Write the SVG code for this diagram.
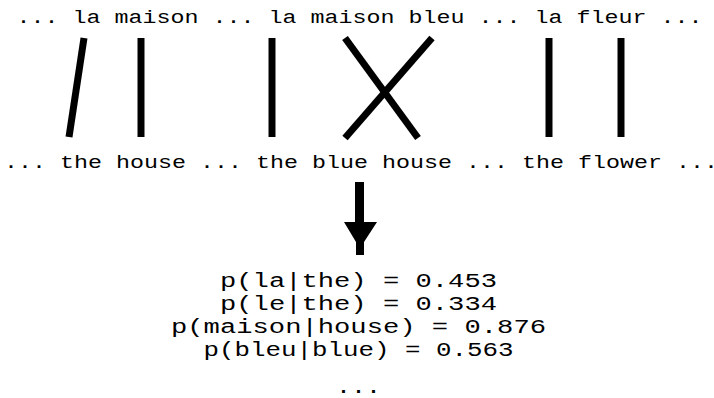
<svg xmlns="http://www.w3.org/2000/svg" width="714" height="398" viewBox="0 0 714 398">
<style>
text{font-family:"Liberation Mono","Courier New",monospace;fill:#000}
.s{font-size:18.5px}
.p{font-size:20px}
.a{stroke:#000;stroke-width:7;fill:none}
</style>
<rect width="714" height="398" fill="#fff"/>
<g id="french"><text class="s" x="16.5" y="23" textLength="686" lengthAdjust="spacingAndGlyphs">... la maison ... la maison bleu ... la fleur ...</text></g>
<g id="english"><text class="s" x="4" y="168" textLength="714" lengthAdjust="spacingAndGlyphs">... the house ... the blue house ... the flower ...</text></g>
<g id="alignments">
<line class="a" x1="84" y1="38" x2="69" y2="137"/>
<line class="a" x1="141" y1="38" x2="141" y2="137"/>
<line class="a" x1="272" y1="38" x2="272" y2="137"/>
<line class="a" x1="345" y1="38" x2="418" y2="138"/>
<line class="a" x1="432" y1="38" x2="345" y2="138"/>
<line class="a" x1="549" y1="38" x2="549" y2="137"/>
<line class="a" x1="621" y1="38" x2="621" y2="137"/>
</g>
<g id="arrow"><polygon points="355,182 364,182 364,222 377,222 364,242 364,255 356,255 356,242 344,222 355,222" fill="#000"/></g>
<g id="probs">
<text class="p" x="358.5" y="287" text-anchor="middle" textLength="277" lengthAdjust="spacingAndGlyphs">p(la|the) = 0.453</text>
<text class="p" x="358.5" y="310" text-anchor="middle" textLength="277" lengthAdjust="spacingAndGlyphs">p(le|the) = 0.334</text>
<text class="p" x="358.5" y="333" text-anchor="middle" textLength="375" lengthAdjust="spacingAndGlyphs">p(maison|house) = 0.876</text>
<text class="p" x="358.5" y="356" text-anchor="middle" textLength="310" lengthAdjust="spacingAndGlyphs">p(bleu|blue) = 0.563</text>
<text class="p" x="358.5" y="393" text-anchor="middle" textLength="45" lengthAdjust="spacingAndGlyphs">...</text>
</g>
</svg>
